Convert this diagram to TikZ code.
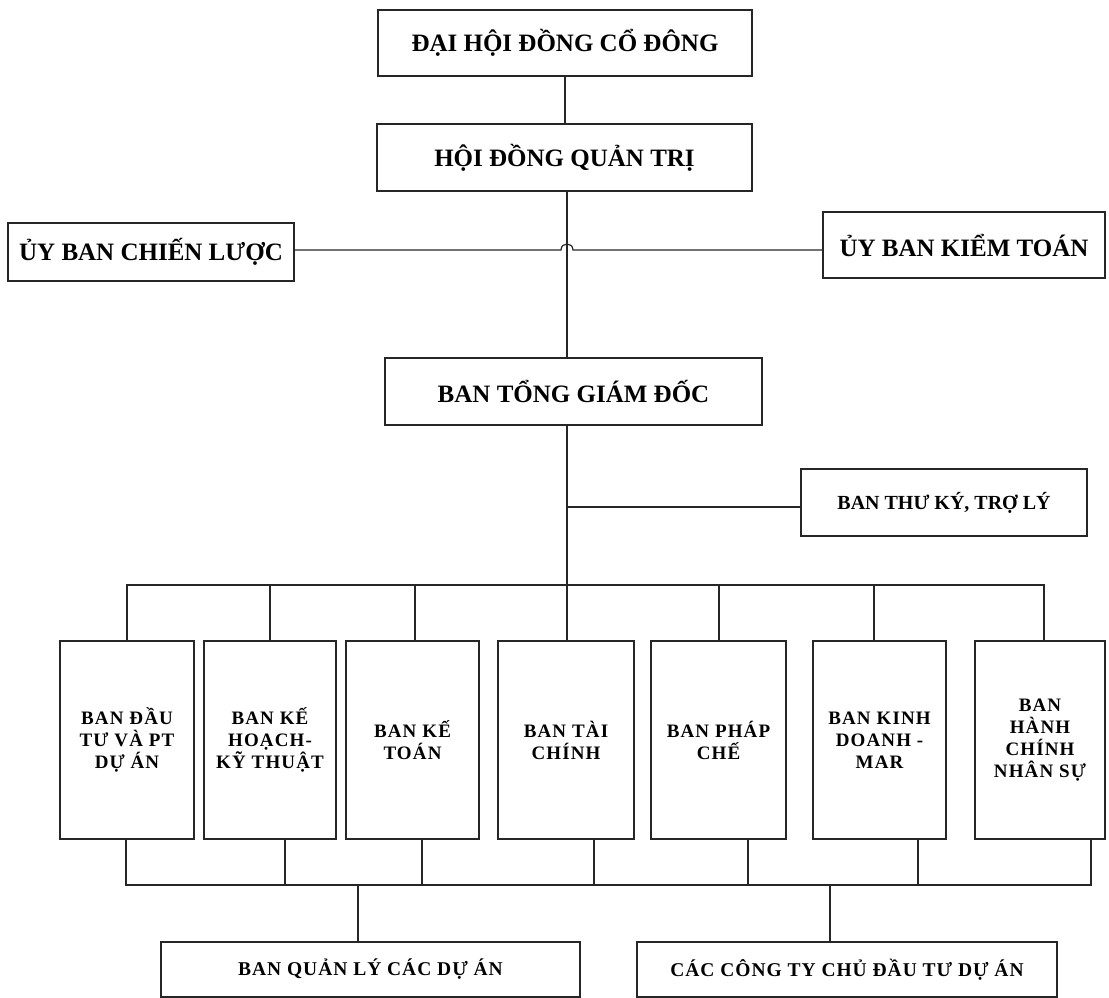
\documentclass[tikz,border=0pt]{standalone}
\usepackage{fontspec}
\setmainfont{Liberation Serif}
\newfontfamily\lowfont[LetterSpace=6]{Liberation Serif}
\newfontfamily\botfont[LetterSpace=5]{Liberation Serif}
\begin{document}
\begin{tikzpicture}[x=1pt,y=-1pt,
  box/.style={draw=black!85, line width=1.4pt, inner sep=0pt, outer sep=0pt,
    align=center, font=\bfseries\fontsize{25}{28}\selectfont},
  dept/.style={box, minimum width=133pt, minimum height=198pt,
    font=\lowfont\bfseries\fontsize{19}{22}\selectfont},
  botbox/.style={box, minimum width=420pt, minimum height=55pt,
    font=\botfont\bfseries\fontsize{19.5}{22}\selectfont},
  conn/.style={draw=black!85, line width=1.2pt}]
\useasboundingbox (0,0) rectangle (1109,998);

% top levels
\node[box, minimum width=374pt, minimum height=66pt] (dh) at (565,43) {ĐẠI HỘI ĐỒNG CỔ ĐÔNG};
\node[box, minimum width=375pt, minimum height=67pt] (hd) at (564.5,157.5) {HỘI ĐỒNG QUẢN TRỊ};
\node[box, minimum width=286pt, minimum height=58pt] (uyl) at (151,252) {ỦY BAN CHIẾN LƯỢC};
\node[box, minimum width=282pt, minimum height=66pt] (uyr) at (964,245) {ỦY BAN KIỂM TOÁN};
\node[box, minimum width=377pt, minimum height=67pt] (tgd) at (573.5,391.5) {BAN TỔNG GIÁM ĐỐC};
\node[box, minimum width=286pt, minimum height=67pt, font=\bfseries\fontsize{20}{24}\selectfont] (tk) at (944,502.5) {BAN THƯ KÝ, TRỢ LÝ};

% departments
\node[dept, minimum width=134pt] (b1) at (127,740) {BAN ĐẦU\\TƯ VÀ PT\\DỰ ÁN};
\node[dept, minimum width=132pt] (b2) at (270,740) {BAN KẾ\\HOẠCH-\\KỸ THUẬT};
\node[dept] (b3) at (412.5,740) {BAN KẾ\\TOÁN};
\node[dept, minimum width=136pt] (b4) at (566,740) {BAN TÀI\\CHÍNH};
\node[dept, minimum width=135pt] (b5) at (718.5,740) {BAN PHÁP\\CHẾ};
\node[dept] (b6) at (879.5,740) {BAN KINH\\DOANH -\\MAR};
\node[dept, minimum width=130pt] (b7) at (1040,740) {BAN\\HÀNH\\CHÍNH\\NHÂN SỰ};

% bottom boxes
\node[botbox, minimum width=419pt] (bq) at (370.5,969.5) {BAN QUẢN LÝ CÁC DỰ ÁN};
\node[botbox] (ct) at (847,969.5) {CÁC CÔNG TY CHỦ ĐẦU TƯ DỰ ÁN};

% helper coordinates
\coordinate (tx) at (567,0);
\coordinate (hy) at (0,250);
\coordinate (hopl) at (561,250);
\coordinate (hopr) at (573,250);
\coordinate (tky) at (0,507);
\coordinate (bus) at (0,585);
\coordinate (lb) at (0,885);

% trunk
\draw[conn] (dh.south) -- (dh.south |- hd.north);
\draw[conn] (tx |- hd.south) -- (tx |- tgd.north);
\draw[conn] (uyl.east |- hy) -- (hopl) .. controls (561,242) and (573,242) .. (hopr) -- (uyr.west |- hy);
\draw[conn] (tx |- tgd.south) -- (tx |- b4.north);
\draw[conn] (tx |- tky) -- (tk.west |- tky);

% upper bus
\coordinate (u1) at (b1.north);
\coordinate (u2) at (b2.north);
\coordinate (u3) at ([xshift=2.5pt]b3.north);
\coordinate (u5) at ([xshift=0.5pt]b5.north);
\coordinate (u6) at ([xshift=-5.5pt]b6.north);
\coordinate (u7) at ([xshift=4pt]b7.north);
\draw[conn] (u1) -- (u1 |- bus) -- (u7 |- bus) -- (u7);
\draw[conn] (u2) -- (u2 |- bus);
\draw[conn] (u3) -- (u3 |- bus);
\draw[conn] (u5) -- (u5 |- bus);
\draw[conn] (u6) -- (u6 |- bus);

% lower bus
\coordinate (d1) at ([xshift=-1pt]b1.south);
\coordinate (d2) at ([xshift=15pt]b2.south);
\coordinate (d3) at ([xshift=9.5pt]b3.south);
\coordinate (d4) at ([xshift=28pt]b4.south);
\coordinate (d5) at ([xshift=29.5pt]b5.south);
\coordinate (d6) at ([xshift=38.5pt]b6.south);
\coordinate (d7) at ([xshift=51pt]b7.south);
\draw[conn] (d1) -- (d1 |- lb) -- (d7 |- lb) -- (d7);
\draw[conn] (d2) -- (d2 |- lb);
\draw[conn] (d3) -- (d3 |- lb);
\draw[conn] (d4) -- (d4 |- lb);
\draw[conn] (d5) -- (d5 |- lb);
\draw[conn] (d6) -- (d6 |- lb);
\coordinate (q1) at ([xshift=-12.5pt]bq.north);
\coordinate (q2) at ([xshift=-17pt]ct.north);
\draw[conn] (q1 |- lb) -- (q1);
\draw[conn] (q2 |- lb) -- (q2);
\end{tikzpicture}
\end{document}
